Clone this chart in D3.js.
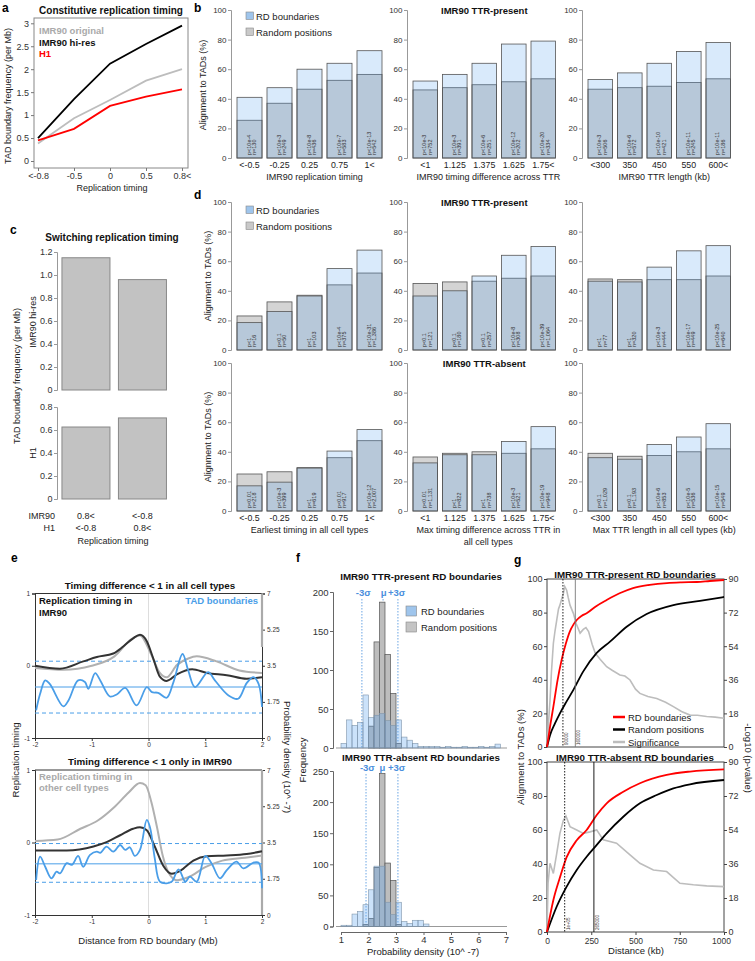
<!DOCTYPE html>
<html><head><meta charset="utf-8">
<script src="https://cdn.jsdelivr.net/npm/d3@7"></script>
<style>
body{margin:0;background:#fff;}
svg{display:block;}
</style></head><body>
<svg id="fig" width="755" height="961"></svg>
<script>
// ================= DATA =================
// Panel a
const aCats = ["<-0.8","-0.5","0","0.5","0.8<"];
const aImr90Original = [0.38,0.93,1.33,1.75,2.0];
const aImr90HiRes = [0.5,1.35,2.12,2.55,2.95];
const aH1 = [0.45,0.7,1.2,1.4,1.56];
const aYTicks = [0,0.5,1,1.5,2,2.5,3];

// Panel b
const bTimingCats = ["<-0.5","-0.25","0.25","0.75","1<"];
const bDiffCats = ["<1","1.125","1.375","1.625","1.75<"];
const bLenCats = ["<300","350","450","550","600<"];
const bTimingRD = [41,47.5,60,64,72.5];
const bTimingRand = [25.5,37,46.5,52.5,56.5];
const bTimingP = ["p<10e-4","p<10e-3","p<10e-8","p<10e-7","p<10e-13"];
const bTimingN = ["n=130","n=249","n=436","n=583","n=542"];
const bDiffRD = [52,56.5,64,77,79];
const bDiffRand = [46,47.5,49.5,51.5,53.5];
const bDiffP = ["p<10e-3","p<10e-3","p<10e-6","p<10e-12","p<10e-20"];
const bDiffN = ["n=752","n=391","n=251","n=202","n=334"];
const bLenRD = [53,57.5,64,72,78];
const bLenRand = [46.5,47.5,48.5,51,53.5];
const bLenP = ["p<10e-3","p<10e-6","p<10e-10","p<10e-11","p<10e-11"];
const bLenN = ["n=506","n=572","n=421","n=245","n=186"];

// Panel c
const cIMR90Labels = ["0.8<","<-0.8"];
const cH1Labels = ["<-0.8","0.8<"];
const cIMR90HiRes = [1.15,0.96];
const cH1 = [0.626,0.705];
const cTopTicks = [0,0.2,0.4,0.6,0.8,1.0,1.2];
const cBotTicks = [0,0.2,0.4,0.6,0.8];

// Panel d (TTR-present row)
const dPresTimingRD = [18.5,26,36.5,55,67.5];
const dPresTimingRand = [23,32.5,37,44,52];
const dPresTimingP = ["p<1","p<0.1","p<1","p<10e-4","p<10e-31"];
const dPresTimingN = ["n=16","n=50","n=103","n=375","n=1,386"];
const dPresDiffRD = [36.5,40,50,64,70];
const dPresDiffRand = [45,46,46.5,48.5,50];
const dPresDiffP = ["p<0.1","p<0.1","p<0.1","p<10e-8","p<10e-39"];
const dPresDiffN = ["n=121","n=180","n=257","n=308","n=1,064"];
const dPresLenRD = [46.5,46,56,67,70.5];
const dPresLenRand = [48,47.5,47.5,47.5,50];
const dPresLenP = ["p<1","p<1","p<10e-3","p<10e-17","p<10e-25"];
const dPresLenN = ["n=77","n=320","n=444","n=449","n=640"];
// Panel d (TTR-absent row)
const dAbsTimingRD = [17,19.5,29,40.5,55];
const dAbsTimingRand = [25,26.5,29.3,36,47.5];
const dAbsTimingP = ["p<0.01","p<10e-3","p<1","p<0.01","p<10e-12"];
const dAbsTimingN = ["n=218","n=399","n=619","n=917","n=2,007"];
const dAbsDiffRD = [32.5,38,38,47,57];
const dAbsDiffRand = [36.5,39,40,39,42];
const dAbsDiffP = ["p<0.01","p<1","p<1","p<10e-3","p<10e-19"];
const dAbsDiffN = ["n=1,131","n=822","n=738","n=521","n=948"];
const dAbsLenRD = [36,35,45,50,59];
const dAbsLenRand = [39,37,37.5,40,42];
const dAbsLenP = ["p<0.1","p<0.1","p<10e-6","p<10e-5","p<10e-15"];
const dAbsLenN = ["n=1,029","n=1,193","n=853","n=536","n=549"];
const pctTicks = [0,20,40,60,80,100];

// Panel e
const eXTicks = [-2,-1,0,1,2];
const eLeftTicks = [-1,0,1];
const eRightTicks = [0,1.75,3.5,5.25,7];
const eTopBlackX = [-2,-1.56,-1.15,-0.91,-0.62,-0.44,-0.27,-0.15,-0.03,0.08,0.2,0.32,0.5,0.77,1.03,1.38,1.73,2];
const eTopBlackY = [0,-0.04,0.06,0.12,0.17,0.27,0.38,0.43,0.34,0.11,-0.15,-0.21,-0.12,-0.05,-0.10,-0.13,-0.18,-0.16];
const eTopGrayX = [-2,-1.5,-1,-0.6,-0.3,-0.15,0.05,0.2,0.32,0.5,0.7,0.85,1.2,1.6,2];
const eTopGrayY = [-0.03,-0.055,0,0.13,0.37,0.42,0.15,-0.1,-0.16,0.01,0.1,0.13,0.06,-0.065,-0.1];
const eTopBlueX = [-1.98,-1.91,-1.82,-1.74,-1.5,-1.41,-1.24,-1.12,-1.06,-0.94,-0.85,-0.68,-0.56,-0.41,-0.21,-0.03,0.06,0.17,0.32,0.44,0.6,0.7,0.82,1.05,1.17,1.41,1.58,1.73,1.85,1.94,2.0];
const eTopBlueY = [1.34,2.14,2.79,2.62,1.53,1.82,2.79,2.71,2.38,3.14,2.79,2.01,2.11,2.43,1.58,2.46,2.22,2.19,1.95,2.71,4.07,3.27,2.46,3.19,2.79,2.06,1.9,2.66,2.95,2.62,1.5];
const eTopBlueLines = [1.21,2.47,3.72];
const eBotBlackX = [-2,-1.44,-0.97,-0.74,-0.5,-0.27,-0.15,-0.03,0.11,0.26,0.41,0.56,0.79,1.03,1.38,1.73,2];
const eBotBlackY = [-0.11,-0.11,-0.055,0.005,0.1,0.19,0.21,0.17,-0.055,-0.32,-0.43,-0.39,-0.25,-0.19,-0.18,-0.16,-0.12];
const eBotGrayX = [-2,-1.6,-1.2,-0.9,-0.6,-0.35,-0.15,-0.05,0.05,0.15,0.25,0.35,0.5,0.7,1.0,1.3,1.7,2];
const eBotGrayY = [0.02,0.04,0.19,0.30,0.49,0.69,0.82,0.79,0.56,0.21,-0.18,-0.41,-0.52,-0.48,-0.34,-0.25,-0.21,-0.18];
const eBotBlueX = [-1.98,-1.91,-1.82,-1.71,-1.62,-1.56,-1.44,-1.35,-1.24,-1.15,-1.03,-0.91,-0.85,-0.74,-0.62,-0.5,-0.41,-0.33,-0.24,-0.15,-0.03,0.03,0.11,0.2,0.32,0.41,0.53,0.65,0.73,0.85,1.0,1.11,1.26,1.38,1.55,1.67,1.85,1.94,2.0];
const eBotBlueY = [1.69,2.82,2.33,1.77,2.09,2.01,2.5,2.42,2.85,2.33,2.9,3.06,3.0,3.3,3.06,3.38,3.14,3.27,2.85,3.14,4.59,4.19,2.74,1.61,1.53,1.61,2.2,1.61,1.85,1.61,2.85,2.5,1.77,2.17,2.58,2.25,2.53,2.53,1.29];
const eBotBlueLines = [1.58,2.47,3.45];

// Panel f
const fBinStarts = [1.0,1.2,1.4,1.6,1.8,2.0,2.2,2.4,2.6,2.8,3.0,3.2,3.4,3.6,3.8,4.0,4.2,4.4,4.6,4.8,5.0,5.2,5.4,5.6,5.8,6.0,6.2,6.4,6.6,6.8];
const fBinWidth = 0.2;
const fPresRD   = [6,36,29,33,68,39,42,44,35,29,36,14,10,6,2,2,2,2,1,2,1,1,2,1,1,2,1,2,5,0];
const fPresRand = [0,0,0,0,0,28,136,187,120,70,6,0,0,0,0,0,0,0,0,0,0,0,0,0,0,0,0,0,0,0];
const fAbsRD    = [2,2,20,24,35,59,97,97,39,19,39,8,5,10,10,4,0,0,0,0,0,0,0,0,0,0,0,0,0,0];
const fAbsRand  = [0,0,0,0,3,13,95,246,102,74,3,0,0,0,0,0,0,0,0,0,0,0,0,0,0,0,0,0,0,0];
const fPresSigma = [1.76,2.53,3.07];
const fAbsSigma = [1.91,2.49,3.07];
const fSigmaLabels = ["-3\u03c3","\u03bc","+3\u03c3"];
const fXTicks = [1,2,3,4,5,6,7];
const fPresTicks = [0,50,100,150,200];
const fAbsTicks = [0,50,100,150,200,250];

// Panel g
const gXTicks = [0,250,500,750,1000];
const gXTickLabels = ["0","250","500","750","1000"];
const gLeftTicks = [0,20,40,60,80,100];
const gRightTicks = [0,18,36,54,72,90];
const gTopRedD = [0,17,36,60,83,105,130,150,168,195,224,280,337,410,486,580,678,760,847,920,1000];
const gTopRedV = [0,12,24,40,52,61,69,73,75.6,78,79.6,84,87.5,91.5,94.6,96.5,97.6,98,98.2,98.8,99.4];
const gTopBlackD = [0,17,45,73,110,149,205,281,356,450,563,714,864,1000];
const gTopBlackV = [0,7,14,20,27,34,45,56,62.7,71.6,79.2,84.5,87,89.3];
const gTopSigD = [0,10,17,25,36,45,55,65,73,85,92,100,111,120,130,149,165,187,205,220,235,255,273,300,337,370,412,440,469,500,525,570,620,670,714,760,808,850,902,950,1000];
const gTopSigV = [0,15,25,40,55.6,62,68,74,76,80,82,86,84,80,76,71.6,66,61,63,64,61.8,55,50.2,47,43,41,38.6,38,35.9,31,28.7,27,26,24,21.6,19,17.1,17,16.3,16,15.4];
const gTopCutoffs = [90,160];
const gTopCutoffLabels = ["90000","160000"];
const gBotRedD = [0,36,73,111,168,224,281,337,431,525,676,808,1000];
const gBotRedV = [0,18.8,32,44,54,60,68.8,75.7,82.5,87.5,92.4,94.4,95.7];
const gBotBlackD = [0,55,111,168,224,281,337,431,525,620,714,808,1000];
const gBotBlackV = [0,15,26.7,36.5,44.3,51.2,58,67.8,75.7,80.6,84.5,86.9,89.4];
const gBotSigD = [0,6,17,36,55,73,92,107,130,168,205,243,281,318,393,469,525,601,676,751,827,902,1000];
const gBotSigV = [0,25.8,36.4,31,41.6,52.2,59,61.4,55.8,54,52.2,53,54,48.8,47,40.8,36.4,32.8,32,25.8,25,24.4,24];
const gBotCutoffs = [100,265];
const gBotCutoffLabels = ["1e+05","265000"];

// ================= DRAWING =================
const FONT = '"Liberation Sans", Arial, Helvetica, sans-serif';
const svg = d3.select("#fig").attr("font-family", FONT);

function T(x, y, s, o = {}) {
  const t = svg.append("text").attr("x", x).attr("y", y).text(s)
    .attr("font-size", o.size || 9)
    .attr("fill", o.fill || "#222")
    .attr("text-anchor", o.anchor || "start");
  if (o.bold) t.attr("font-weight", "bold");
  if (o.rot) t.attr("transform", `rotate(${o.rot},${x},${y})`);
  return t;
}
function styleAxis(g, o = {}) {
  g.attr("font-family", FONT).attr("font-size", o.size || 8);
  g.select(".domain").attr("stroke", o.color || "#777").attr("stroke-width", o.sw || 1);
  g.selectAll(".tick line").attr("stroke", o.color || "#777");
  g.selectAll(".tick text").attr("fill", o.tfill || "#333");
  if (o.noDomain) g.select(".domain").remove();
}
const fmtNum = d => String(d);

// ---- panel labels
T(2, 12, "a", {bold: true, size: 12, fill: "#000"});
T(194, 12, "b", {bold: true, size: 12, fill: "#000"});
T(10, 234, "c", {bold: true, size: 12, fill: "#000"});
T(194, 199, "d", {bold: true, size: 12, fill: "#000"});
T(11, 562, "e", {bold: true, size: 12, fill: "#000"});
T(296, 562, "f", {bold: true, size: 12, fill: "#000"});
T(514, 564, "g", {bold: true, size: 12, fill: "#000"});

// ---- Panel a
{
  const x = d3.scalePoint().domain(aCats).range([38, 182]);
  const y = d3.scaleLinear().domain([0, 3]).range([161, 23.3]);
  svg.append("rect").attr("x", 34).attr("y", 18).attr("width", 154).attr("height", 150)
    .attr("fill", "none").attr("stroke", "#888");
  const ya = svg.append("g").attr("transform", "translate(34,0)")
    .call(d3.axisLeft(y).tickValues(aYTicks).tickFormat(fmtNum).tickSize(3).tickPadding(2));
  styleAxis(ya, {size: 9, noDomain: true});
  const xa = svg.append("g").attr("transform", "translate(0,168)")
    .call(d3.axisBottom(x).tickSize(3).tickPadding(1.5));
  styleAxis(xa, {size: 9, noDomain: true});
  const line = d3.line().x((d, i) => x(aCats[i])).y(d => y(d));
  [[aImr90Original, "#bdbdbd"], [aImr90HiRes, "#000"], [aH1, "#f00"]].forEach(([s, c]) => {
    svg.append("path").datum(s).attr("d", line).attr("fill", "none").attr("stroke", c).attr("stroke-width", 1.8);
  });
  T(111, 14, "Constitutive replication timing", {bold: true, size: 10, anchor: "middle", fill: "#111"});
  T(39, 33.5, "IMR90 original", {bold: true, size: 9.5, fill: "#aaa"});
  T(39, 45.5, "IMR90 hi-res", {bold: true, size: 9.5, fill: "#111"});
  T(39, 56.5, "H1", {bold: true, size: 9.5, fill: "#f00"});
  T(11, 96, "TAD boundary frequency (per Mb)", {size: 9, anchor: "middle", rot: -90});
  T(112, 191, "Replication timing", {size: 9, anchor: "middle"});
}

// ---- Panels b & d (bar plots)
function barPlot(c) {
  const x = d3.scaleBand().domain(c.cats)
    .range([c.x0 - c.step / 12, c.x0 - c.step / 12 + 5 * c.step])
    .paddingInner(1 / 6).paddingOuter(1 / 12);
  const y = d3.scaleLinear().domain([0, 100]).range([c.y0, c.y100]);
  const ax = svg.append("g").attr("transform", `translate(${c.x0 - 6},0)`)
    .call(d3.axisLeft(y).tickValues(pctTicks).tickSize(3).tickPadding(1.5));
  styleAxis(ax, {size: 8, color: "#999"});
  svg.append("g").selectAll("rect").data(c.rand).join("rect")
    .attr("x", (d, i) => x(c.cats[i])).attr("width", x.bandwidth())
    .attr("y", d => y(d)).attr("height", d => c.y0 - y(d))
    .attr("fill", "#d4d4d4").attr("stroke", "#555").attr("stroke-width", 0.8);
  svg.append("g").selectAll("rect").data(c.rd).join("rect")
    .attr("x", (d, i) => x(c.cats[i])).attr("width", x.bandwidth())
    .attr("y", d => y(d)).attr("height", d => c.y0 - y(d))
    .attr("fill", "rgb(82,160,237)").attr("fill-opacity", 0.22)
    .attr("stroke", "#555").attr("stroke-width", 0.8);
  c.p.forEach((s, i) => {
    const cx = x(c.cats[i]) + x.bandwidth() / 2;
    T(cx + 1, c.y0 - 3, s, {size: 5.5, rot: -90, fill: "#333"});
    T(cx + 6.5, c.y0 - 3, c.n[i], {size: 5.5, rot: -90, fill: "#333"});
  });
  if (c.showX) {
    c.cats.forEach((s, i) => T(x(s) + x.bandwidth() / 2, c.y0 + 10, s, {size: 8.8, anchor: "middle"}));
  }
  const mid = c.x0 + 2.5 * c.step - c.step / 12;
  if (c.xlabel) c.xlabel.forEach((s, k) => T(mid + (c.xoff || 0), c.y0 + 22 + k * 12, s, {size: 9, anchor: "middle"}));
  if (c.title) T(mid, c.y100 + 3.5, c.title, {bold: true, size: 9.5, anchor: "middle", fill: "#111"});
}
function legendBD(y) {
  svg.append("rect").attr("x", 246).attr("y", y - 4).attr("width", 7.5).attr("height", 7.5)
    .attr("fill", "#9fc5ec").attr("stroke", "#888").attr("stroke-width", 0.6);
  svg.append("rect").attr("x", 246).attr("y", y + 12).attr("width", 7.5).attr("height", 7.5)
    .attr("fill", "#c9c9c9").attr("stroke", "#888").attr("stroke-width", 0.6);
  T(256, y + 3.5, "RD boundaries", {size: 9.5});
  T(256, y + 19.5, "Random positions", {size: 9.5});
}
// b
barPlot({x0: 237, step: 30, y0: 158, y100: 10, cats: bTimingCats, rd: bTimingRD, rand: bTimingRand,
  p: bTimingP, n: bTimingN, showX: true, xlabel: ["IMR90 replication timing"], xoff: 5});
barPlot({x0: 413, step: 29.5, y0: 158, y100: 10, cats: bDiffCats, rd: bDiffRD, rand: bDiffRand,
  p: bDiffP, n: bDiffN, showX: true, xlabel: ["IMR90 timing difference across TTR"], xoff: 4, title: "IMR90 TTR-present"});
barPlot({x0: 588, step: 29.5, y0: 158, y100: 10, cats: bLenCats, rd: bLenRD, rand: bLenRand,
  p: bLenP, n: bLenN, showX: true, xlabel: ["IMR90 TTR length (kb)"], xoff: 5});
legendBD(16);
T(206, 85, "Alignment to TADs (%)", {size: 9, anchor: "middle", rot: -90});
// d top
barPlot({x0: 237, step: 30, y0: 350, y100: 202, cats: bTimingCats, rd: dPresTimingRD, rand: dPresTimingRand,
  p: dPresTimingP, n: dPresTimingN});
barPlot({x0: 413, step: 29.5, y0: 350, y100: 202, cats: bDiffCats, rd: dPresDiffRD, rand: dPresDiffRand,
  p: dPresDiffP, n: dPresDiffN, title: "IMR90 TTR-present"});
barPlot({x0: 588, step: 29.5, y0: 350, y100: 202, cats: bLenCats, rd: dPresLenRD, rand: dPresLenRand,
  p: dPresLenP, n: dPresLenN});
legendBD(210);
T(211, 276, "Alignment to TADs (%)", {size: 9, anchor: "middle", rot: -90});
// d bottom
barPlot({x0: 237, step: 30, y0: 511, y100: 363, cats: bTimingCats, rd: dAbsTimingRD, rand: dAbsTimingRand,
  p: dAbsTimingP, n: dAbsTimingN, showX: true, xlabel: ["Earliest timing in all cell types"]});
barPlot({x0: 413, step: 29.5, y0: 511, y100: 363, cats: bDiffCats, rd: dAbsDiffRD, rand: dAbsDiffRand,
  p: dAbsDiffP, n: dAbsDiffN, showX: true, xlabel: ["Max timing difference across TTR in", "all cell types"], xoff: 4, title: "IMR90 TTR-absent"});
barPlot({x0: 588, step: 29.5, y0: 511, y100: 363, cats: bLenCats, rd: dAbsLenRD, rand: dAbsLenRand,
  p: dAbsLenP, n: dAbsLenN, showX: true, xlabel: ["Max TTR length in all cell types (kb)"], xoff: 5});
T(211, 437, "Alignment to TADs (%)", {size: 9, anchor: "middle", rot: -90});

// ---- Panel c
{
  const x = d3.scaleBand().domain(cIMR90Labels.map((d, i) => i)).range([58, 170.4]).paddingInner(0.15).paddingOuter(0.07);
  const yT = d3.scaleLinear().domain([0, 1.2]).range([390, 252]);
  const yB = d3.scaleLinear().domain([0, 0.8]).range([499, 407]);
  const f = d => d === 0 ? "0" : d3.format(".1f")(d);
  const a1 = svg.append("g").attr("transform", "translate(57,0)")
    .call(d3.axisLeft(yT).tickValues(cTopTicks).tickFormat(f).tickSize(3).tickPadding(1.5));
  styleAxis(a1, {size: 9, color: "#999"});
  const a2 = svg.append("g").attr("transform", "translate(57,0)")
    .call(d3.axisLeft(yB).tickValues(cBotTicks).tickFormat(f).tickSize(3).tickPadding(1.5));
  styleAxis(a2, {size: 9, color: "#999"});
  svg.append("g").selectAll("rect").data(cIMR90HiRes).join("rect")
    .attr("x", (d, i) => x(i)).attr("width", x.bandwidth()).attr("y", d => yT(d)).attr("height", d => 390 - yT(d))
    .attr("fill", "#c2c2c2").attr("stroke", "#888");
  svg.append("g").selectAll("rect").data(cH1).join("rect")
    .attr("x", (d, i) => x(i)).attr("width", x.bandwidth()).attr("y", d => yB(d)).attr("height", d => 499 - yB(d))
    .attr("fill", "#c2c2c2").attr("stroke", "#888");
  T(112, 241, "Switching replication timing", {bold: true, size: 10, anchor: "middle", fill: "#111"});
  T(35.5, 322, "IMR90 hi-res", {size: 9, anchor: "middle", rot: -90});
  T(35.5, 453, "H1", {size: 9, anchor: "middle", rot: -90});
  T(20, 376, "TAD boundary frequency (per Mb)", {size: 9, anchor: "middle", rot: -90});
  T(55, 519, "IMR90", {size: 9, anchor: "end"});
  T(55, 530.5, "H1", {size: 9, anchor: "end"});
  cIMR90Labels.forEach((s, i) => T(x(i) + x.bandwidth() / 2, 519, s, {size: 9, anchor: "middle"}));
  cH1Labels.forEach((s, i) => T(x(i) + x.bandwidth() / 2, 530.5, s, {size: 9, anchor: "middle"}));
  T(113, 544, "Replication timing", {size: 9, anchor: "middle"});
}

// ---- Panel e
const xE = d3.scaleLinear().domain([-2, 2]).range([35, 262]);
function ePlot(c) {
  const yL = d3.scaleLinear().domain([-1, 1]).range([c.bot, c.top]);
  const yR = d3.scaleLinear().domain([0, 7]).range([c.bot, c.top]);
  svg.append("line").attr("x1", xE(0)).attr("x2", xE(0)).attr("y1", c.top).attr("y2", c.bot).attr("stroke", "#ddd");
  const aL = svg.append("g").attr("transform", "translate(35,0)")
    .call(d3.axisLeft(yL).tickValues(eLeftTicks).tickFormat(fmtNum).tickSize(3).tickPadding(2));
  styleAxis(aL, {size: 6.5, color: "#333"});
  const aR = svg.append("g").attr("transform", "translate(262,0)")
    .call(d3.axisRight(yR).tickValues(eRightTicks).tickFormat(fmtNum).tickSize(3).tickPadding(2));
  styleAxis(aR, {size: 6.5, color: "#333"});
  const aB = svg.append("g").attr("transform", `translate(0,${c.bot})`)
    .call(d3.axisBottom(xE).tickValues(eXTicks).tickFormat(fmtNum).tickSize(3).tickPadding(1));
  styleAxis(aB, {size: 6.5, color: "#333"});
  svg.append("line").attr("x1", 35).attr("x2", 262).attr("y1", c.top).attr("y2", c.top).attr("stroke", "#333");
  svg.append("line").attr("x1", 262).attr("x2", 262).attr("y1", c.top).attr("y2", c.grayEnd).attr("stroke", "#aaa").attr("stroke-width", 2.2);
  c.lines.forEach((v, k) => {
    svg.append("line").attr("x1", 35).attr("x2", 262).attr("y1", yR(v)).attr("y2", yR(v))
      .attr("stroke", "#4a9ee8").attr("stroke-width", 1)
      .attr("stroke-dasharray", k === 1 ? null : "4,3");
  });
  const lineL = d3.line().x(d => xE(d[0])).y(d => yL(d[1])).curve(d3.curveMonotoneX);
  const lineR = d3.line().x(d => xE(d[0])).y(d => yR(d[1])).curve(d3.curveCatmullRom.alpha(0.5));
  svg.append("path").datum(d3.zip(c.grayX, c.grayY)).attr("d", lineL).attr("fill", "none").attr("stroke", "#b0b0b0").attr("stroke-width", 2);
  svg.append("path").datum(d3.zip(c.blackX, c.blackY)).attr("d", lineL).attr("fill", "none").attr("stroke", "#333").attr("stroke-width", 2);
  svg.append("path").datum(d3.zip(c.blueX, c.blueY)).attr("d", lineR).attr("fill", "none").attr("stroke", "#4a9ee8").attr("stroke-width", 1.8);
  T(150, c.top - 5, c.title, {bold: true, size: 9.8, anchor: "middle", fill: "#111"});
}
ePlot({top: 593.5, bot: 738, grayEnd: 647, title: "Timing difference < 1 in all cell types",
  blackX: eTopBlackX, blackY: eTopBlackY, grayX: eTopGrayX, grayY: eTopGrayY, blueX: eTopBlueX, blueY: eTopBlueY, lines: eTopBlueLines});
ePlot({top: 770, bot: 915, grayEnd: 915, title: "Timing difference < 1 only in IMR90",
  blackX: eBotBlackX, blackY: eBotBlackY, grayX: eBotGrayX, grayY: eBotGrayY, blueX: eBotBlueX, blueY: eBotBlueY, lines: eBotBlueLines});
T(39, 603.5, "Replication timing in", {bold: true, size: 9.5, fill: "#111"});
T(39, 615.5, "IMR90", {bold: true, size: 9.5, fill: "#111"});
T(258, 603.5, "TAD boundaries", {bold: true, size: 9.5, fill: "#4a9ee8", anchor: "end"});
T(39, 779.5, "Replication timing in", {bold: true, size: 9.5, fill: "#aaa"});
T(39, 791, "other cell types", {bold: true, size: 9.5, fill: "#aaa"});
T(18.5, 760, "Replication timing", {size: 9.5, anchor: "middle", rot: -90});
T(283.5, 757, "Probability density (10^ -7)", {size: 9.5, anchor: "middle", rot: 90});
T(148, 944, "Distance from RD boundary (Mb)", {size: 9.5, anchor: "middle"});

// ---- Panel f
const xF = d3.scaleLinear().domain([1, 7]).range([341, 506]);
function fHist(c) {
  const y = d3.scaleLinear().domain([0, c.max]).range([c.base, c.topY]);
  const ax = svg.append("g").attr("transform", "translate(333,0)")
    .call(d3.axisLeft(y).tickValues(c.ticks).tickSize(3).tickPadding(1.5));
  styleAxis(ax, {size: 9.5, color: "#666"});
  svg.append("line").attr("x1", 336).attr("x2", 507).attr("y1", c.base).attr("y2", c.base).attr("stroke", "#999");
  c.sigma.forEach((v, k) => {
    svg.append("line").attr("x1", xF(v)).attr("x2", xF(v)).attr("y1", c.labY + 3).attr("y2", c.base)
      .attr("stroke", "#5a9be0").attr("stroke-width", 0.9).attr("stroke-dasharray", "1.5,1.5");
  });
  const bw = xF(1 + fBinWidth) - xF(1);
  svg.append("g").selectAll("rect").data(c.rand).join("rect")
    .attr("x", (d, i) => xF(fBinStarts[i])).attr("width", bw)
    .attr("y", d => y(d)).attr("height", d => c.base - y(d))
    .attr("fill", "#bdbdbd").attr("stroke", "#555").attr("stroke-width", 0.7)
    .attr("display", d => d > 0 ? null : "none");
  svg.append("g").selectAll("rect").data(c.rd).join("rect")
    .attr("x", (d, i) => xF(fBinStarts[i])).attr("width", bw)
    .attr("y", d => y(d)).attr("height", d => c.base - y(d))
    .attr("fill", "rgb(82,160,237)").attr("fill-opacity", 0.3)
    .attr("stroke", "#7f95aa").attr("stroke-width", 0.6)
    .attr("display", d => d > 0 ? null : "none");
  const labX = [c.sigma[0] + 0.05, c.sigma[1] + 0.02, c.sigma[2] - 0.05];
  fSigmaLabels.forEach((s, k) => T(xF(labX[k]), c.labY, s, {size: 9.5, anchor: "middle", fill: "#4a8fdd", bold: true}));
  T(421, c.titleY, c.title, {bold: true, size: 9.8, anchor: "middle", fill: "#111"});
}
fHist({base: 748, topY: 592, max: 200, ticks: fPresTicks, rd: fPresRD, rand: fPresRand, sigma: fPresSigma,
  labY: 596, titleY: 580, title: "IMR90 TTR-present RD boundaries"});
fHist({base: 926.5, topY: 771, max: 250, ticks: fAbsTicks, rd: fAbsRD, rand: fAbsRand, sigma: fAbsSigma,
  labY: 771, titleY: 760.5, title: "IMR90 TTR-absent RD boundaries"});
{
  const ax = svg.append("g").attr("transform", "translate(0,932)")
    .call(d3.axisBottom(xF).tickValues(fXTicks).tickFormat(fmtNum).tickSize(3).tickPadding(1.5));
  styleAxis(ax, {size: 9.5, color: "#666"});
  svg.append("rect").attr("x", 406).attr("y", 606).attr("width", 10.5).attr("height", 10)
    .attr("fill", "#9fc5ec").attr("stroke", "#888").attr("stroke-width", 0.6);
  svg.append("rect").attr("x", 406).attr("y", 622).attr("width", 10.5).attr("height", 10)
    .attr("fill", "#c4c4c4").attr("stroke", "#888").attr("stroke-width", 0.6);
  T(421, 614.5, "RD boundaries", {size: 9.5});
  T(421, 630.5, "Random positions", {size: 9.5});
  T(305.5, 760, "Frequency", {size: 9.5, anchor: "middle", rot: -90});
  T(423, 955, "Probability density (10^ -7)", {size: 9.5, anchor: "middle"});
}

// ---- Panel g
const xG = d3.scaleLinear().domain([0, 1000]).range([547, 724]);
function gPlot(c) {
  const yL = d3.scaleLinear().domain([0, 100]).range([c.bot, c.top]);
  const yR = d3.scaleLinear().domain([0, 90]).range([c.bot, c.top]);
  svg.append("rect").attr("x", 547).attr("y", c.top).attr("width", 177).attr("height", c.bot - c.top)
    .attr("fill", "none").attr("stroke", "#444");
  const aL = svg.append("g").attr("transform", "translate(547,0)")
    .call(d3.axisLeft(yL).tickValues(gLeftTicks).tickSize(3).tickPadding(1.5));
  styleAxis(aL, {size: 9, color: "#444", noDomain: true});
  const aR = svg.append("g").attr("transform", "translate(724,0)")
    .call(d3.axisRight(yR).tickValues(gRightTicks).tickSize(3).tickPadding(1.5));
  styleAxis(aR, {size: 9, color: "#444", noDomain: true});
  const lineL = d3.line().x(d => xG(d[0])).y(d => yL(d[1])).curve(d3.curveMonotoneX);
  const lineR = d3.line().x(d => xG(d[0])).y(d => yR(d[1]));
  svg.append("path").datum(d3.zip(c.sigD, c.sigV)).attr("d", lineR).attr("fill", "none").attr("stroke", "#bdbdbd").attr("stroke-width", 1.6);
  svg.append("path").datum(d3.zip(c.blackD, c.blackV)).attr("d", lineL).attr("fill", "none").attr("stroke", "#000").attr("stroke-width", 1.8);
  svg.append("path").datum(d3.zip(c.redD, c.redV)).attr("d", lineL).attr("fill", "none").attr("stroke", "#f00").attr("stroke-width", 1.8);
  c.cut.forEach((v, k) => {
    svg.append("line").attr("x1", xG(v)).attr("x2", xG(v)).attr("y1", c.top).attr("y2", c.bot)
      .attr("stroke", k === 0 ? "#000" : c.solidColor).attr("stroke-width", 0.9)
      .attr("stroke-dasharray", k === 0 ? "1.5,1.5" : null);
    T(xG(v) + 5, c.bot - 2, c.cutLab[k], {size: 4.5, rot: -90, fill: "#333"});
  });
  T(635, c.top - 1.5, c.title, {bold: true, size: 9.8, anchor: "middle", fill: "#111"});
}
gPlot({top: 579, bot: 747, redD: gTopRedD, redV: gTopRedV, blackD: gTopBlackD, blackV: gTopBlackV,
  sigD: gTopSigD, sigV: gTopSigV, cut: gTopCutoffs, cutLab: gTopCutoffLabels, solidColor: "#777",
  title: "IMR90 TTR-present RD boundaries"});
gPlot({top: 762, bot: 932, redD: gBotRedD, redV: gBotRedV, blackD: gBotBlackD, blackV: gBotBlackV,
  sigD: gBotSigD, sigV: gBotSigV, cut: gBotCutoffs, cutLab: gBotCutoffLabels, solidColor: "#000",
  title: "IMR90 TTR-absent RD boundaries"});
{
  const ax = svg.append("g").attr("transform", "translate(0,932)")
    .call(d3.axisBottom(xG).tickValues(gXTicks).tickFormat((d, i) => gXTickLabels[i]).tickSize(3).tickPadding(2.5));
  styleAxis(ax, {size: 8.5, color: "#444", noDomain: true});
  ax.selectAll(".tick text").filter((d, i) => i === gXTicks.length - 1).attr("dx", "-3");
  const leg = [["RD boundaries", "#f00"], ["Random positions", "#000"], ["Significance", "#bdbdbd"]];
  leg.forEach(([s, col], k) => {
    svg.append("line").attr("x1", 613).attr("x2", 625).attr("y1", 717 + k * 12.5).attr("y2", 717 + k * 12.5)
      .attr("stroke", col).attr("stroke-width", 2.5);
    T(628, 720.5 + k * 12.5, s, {size: 9.5});
  });
  T(523.5, 757, "Alignment to TADs (%)", {size: 9.5, anchor: "middle", rot: -90});
  T(745, 758, "-Log10 (p-value)", {size: 9.5, anchor: "middle", rot: 90});
  T(636, 954, "Distance (kb)", {size: 9.5, anchor: "middle"});
}
</script></body></html>
